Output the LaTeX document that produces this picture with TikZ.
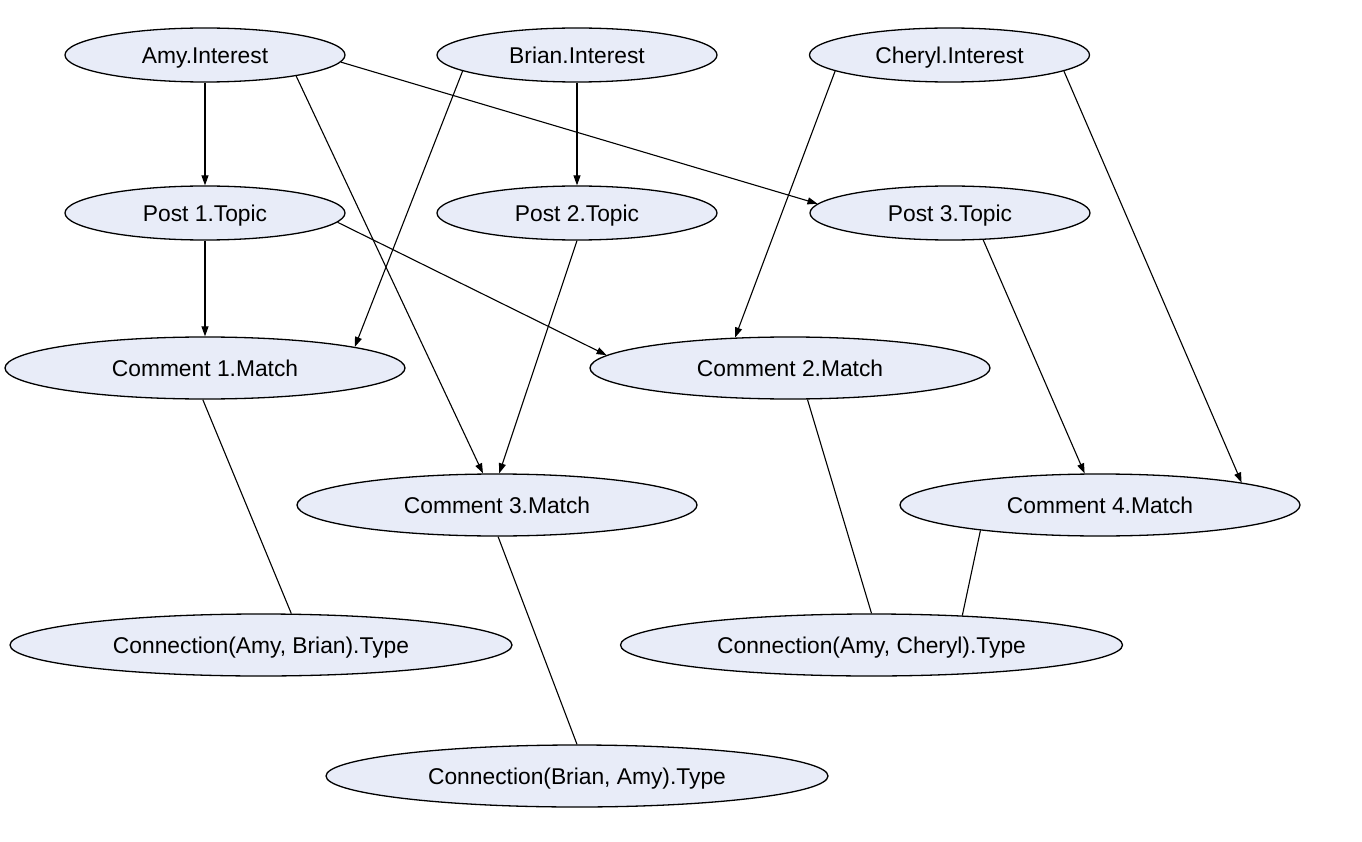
\documentclass[tikz,border=0pt]{standalone}
\usepackage{fontspec}
\setmainfont{Liberation Sans}
\usetikzlibrary{shapes.geometric,arrows.meta}
\definecolor{nodefill}{RGB}{232,236,248}
\begin{document}
\begin{tikzpicture}[x=1pt,y=-1pt,
  ell/.style={ellipse,draw=black,line width=1.3pt,fill=nodefill,inner sep=0pt,
    text height=19pt,text depth=2pt,
    font=\fontsize{22.8}{26}\selectfont},
  small/.style={ell,minimum width=280pt,minimum height=54pt},
  mid/.style={ell,minimum width=400pt,minimum height=62pt},
  big/.style={ell,minimum width=502pt,minimum height=62pt},
  arr/.style={line width=1.1pt,-{Triangle[length=10pt,width=7pt]}},
  lnk/.style={line width=1.1pt}]
\useasboundingbox (0,0) rectangle (1362,842);
\node[small] (ai) at (205,55) {Amy.Interest};
\node[small] (bi) at (577,55) {Brian.Interest};
\node[small] (ci) at (949.5,55) {Cheryl.Interest};
\node[small] (p1) at (205,213) {Post 1.Topic};
\node[small] (p2) at (577,213) {Post 2.Topic};
\node[small] (p3) at (950,213) {Post 3.Topic};
\node[mid] (c1) at (205,368) {Comment 1.Match};
\node[mid] (c2) at (790,368) {Comment 2.Match};
\node[mid] (c3) at (497,505) {Comment 3.Match};
\node[mid] (c4) at (1100,505) {Comment 4.Match};
\node[big] (cab) at (261,645) {Connection(Amy, Brian).Type};
\node[big] (cac) at (871.5,645) {Connection(Amy, Cheryl).Type};
\node[big] (cba) at (577,776) {Connection(Brian, Amy).Type};
\draw[arr] (ai.south) -- (p1.north);
\draw[arr] (ai.-13.4) -- (c3.114.3);
\draw[arr] (ai.-3.9) -- (p3.176.6);
\draw[arr] (bi.188.5) -- (c1.8.2);
\draw[arr] (bi.south) -- (p2.north);
\draw[arr] (ci.188.7) -- (c2.151.6);
\draw[arr] (ci.-8.2) -- (c4.9.7);
\draw[arr] (p1.south) -- (c1.north);
\draw[arr] (p1.-4.4) -- (c2.176.4);
\draw[arr] (p2.south) -- (c3.86.4);
\draw[arr] (p3.-39.4) -- (c4.116.3);
\draw[lnk] (c1.-94) -- (cab.46.7);
\draw[lnk] (c3.-88) -- (cba.north);
\draw[lnk] (c2.-61.2) -- (cac.north);
\draw[lnk] (c4.192.8) -- (cac.18.1);
\end{tikzpicture}
\end{document}
